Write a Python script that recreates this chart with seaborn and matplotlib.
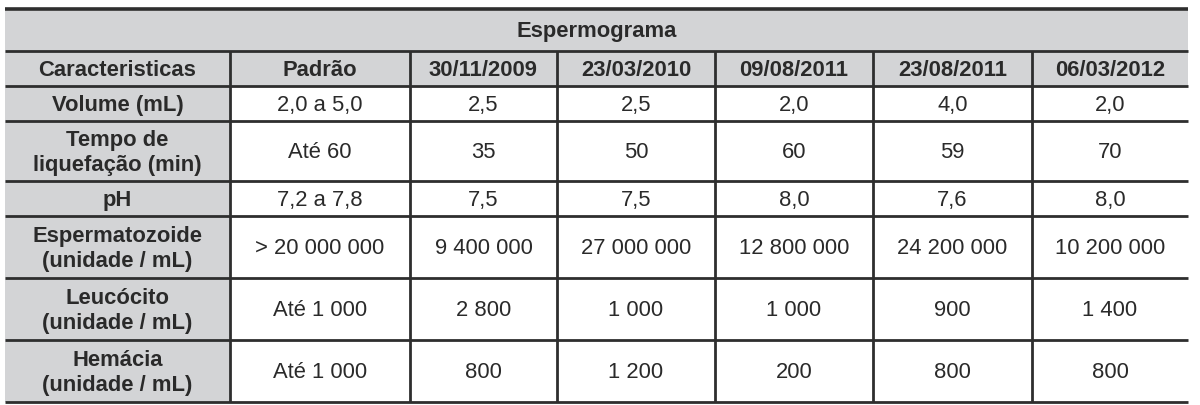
import numpy as np
import matplotlib.pyplot as plt
from matplotlib.colors import ListedColormap
import seaborn as sns

# table content
title = "Espermograma"
columns = ["Caracteristicas", "Padrão", "30/11/2009", "23/03/2010",
           "09/08/2011", "23/08/2011", "06/03/2012"]
row_labels = ["Volume (mL)", "Tempo de\nliquefação (min)", "pH",
              "Espermatozoide\n(unidade / mL)", "Leucócito\n(unidade / mL)",
              "Hemácia\n(unidade / mL)"]
padrao = ["2,0 a 5,0", "Até 60", "7,2 a 7,8", "> 20 000 000", "Até 1 000", "Até 1 000"]
volume = ["2,5", "2,5", "2,0", "4,0", "2,0"]
tempo = ["35", "50", "60", "59", "70"]
ph = ["7,5", "7,5", "8,0", "7,6", "8,0"]
espermatozoide = ["9 400 000", "27 000 000", "12 800 000", "24 200 000", "10 200 000"]
leucocito = ["2 800", "1 000", "1 000", "900", "1 400"]
hemacia = ["800", "1 200", "200", "800", "800"]

# layout (pixel units)
col_edges = [5, 230, 410, 557, 715, 873, 1032, 1188]
row_edges = [10, 52, 87, 122, 182, 217, 279, 341, 403]

sns.set_theme(style="white")
plt.rcParams['font.family'] = ['Liberation Sans', 'DejaVu Sans']

gray = "#d3d4d6"
line = "#2e2e2e"
txt = "#2a2a2a"

body = [[p] + vals for p, vals in zip(padrao, [volume, tempo, ph, espermatozoide, leucocito, hemacia])]

fig = plt.figure(figsize=(12, 4.06), dpi=100)
ax = fig.add_axes([0, 0, 1, 1])
ax.set_xlim(0, 1200)
ax.set_ylim(406, 0)
ax.axis("off")

# background: gray title/header rows and first column, white data cells
bg = np.ones((len(row_edges) - 1, len(col_edges) - 1))
bg[:2, :] = 0
bg[:, 0] = 0
ax.pcolormesh(col_edges, row_edges, bg, cmap=ListedColormap([gray, "white"]),
              vmin=0, vmax=1, zorder=0)

x0, x1 = col_edges[0], col_edges[-1]
# horizontal lines
for i, y in enumerate(row_edges):
    ax.plot([x0, x1], [y, y], color=line, lw=2.6 if i == 0 else 2.0, zorder=2, solid_capstyle="butt")
# vertical lines (below title row)
for x in col_edges[1:-1]:
    ax.plot([x, x], [row_edges[1], row_edges[-1]], color=line, lw=2.0, zorder=2, solid_capstyle="butt")

def mid(a, i):
    return (a[i] + a[i + 1]) / 2

fs = 15.8
ax.text((x0 + x1) / 2, mid(row_edges, 0) + 1, title, ha="center", va="center",
        fontsize=fs, fontweight="bold", color=txt)
for j, c in enumerate(columns):
    ax.text(mid(col_edges, j), mid(row_edges, 1) + 1, c, ha="center", va="center",
            fontsize=fs, fontweight="bold", color=txt)
for i, lab in enumerate(row_labels):
    y = mid(row_edges, i + 2) + 1
    ax.text(mid(col_edges, 0), y, lab, ha="center", va="center", fontsize=fs,
            fontweight="bold", color=txt, linespacing=1.25)
    for j, v in enumerate(body[i]):
        ax.text(mid(col_edges, j + 1), y, v, ha="center", va="center", fontsize=fs, color=txt)

fig.savefig("out.png", dpi=100)
